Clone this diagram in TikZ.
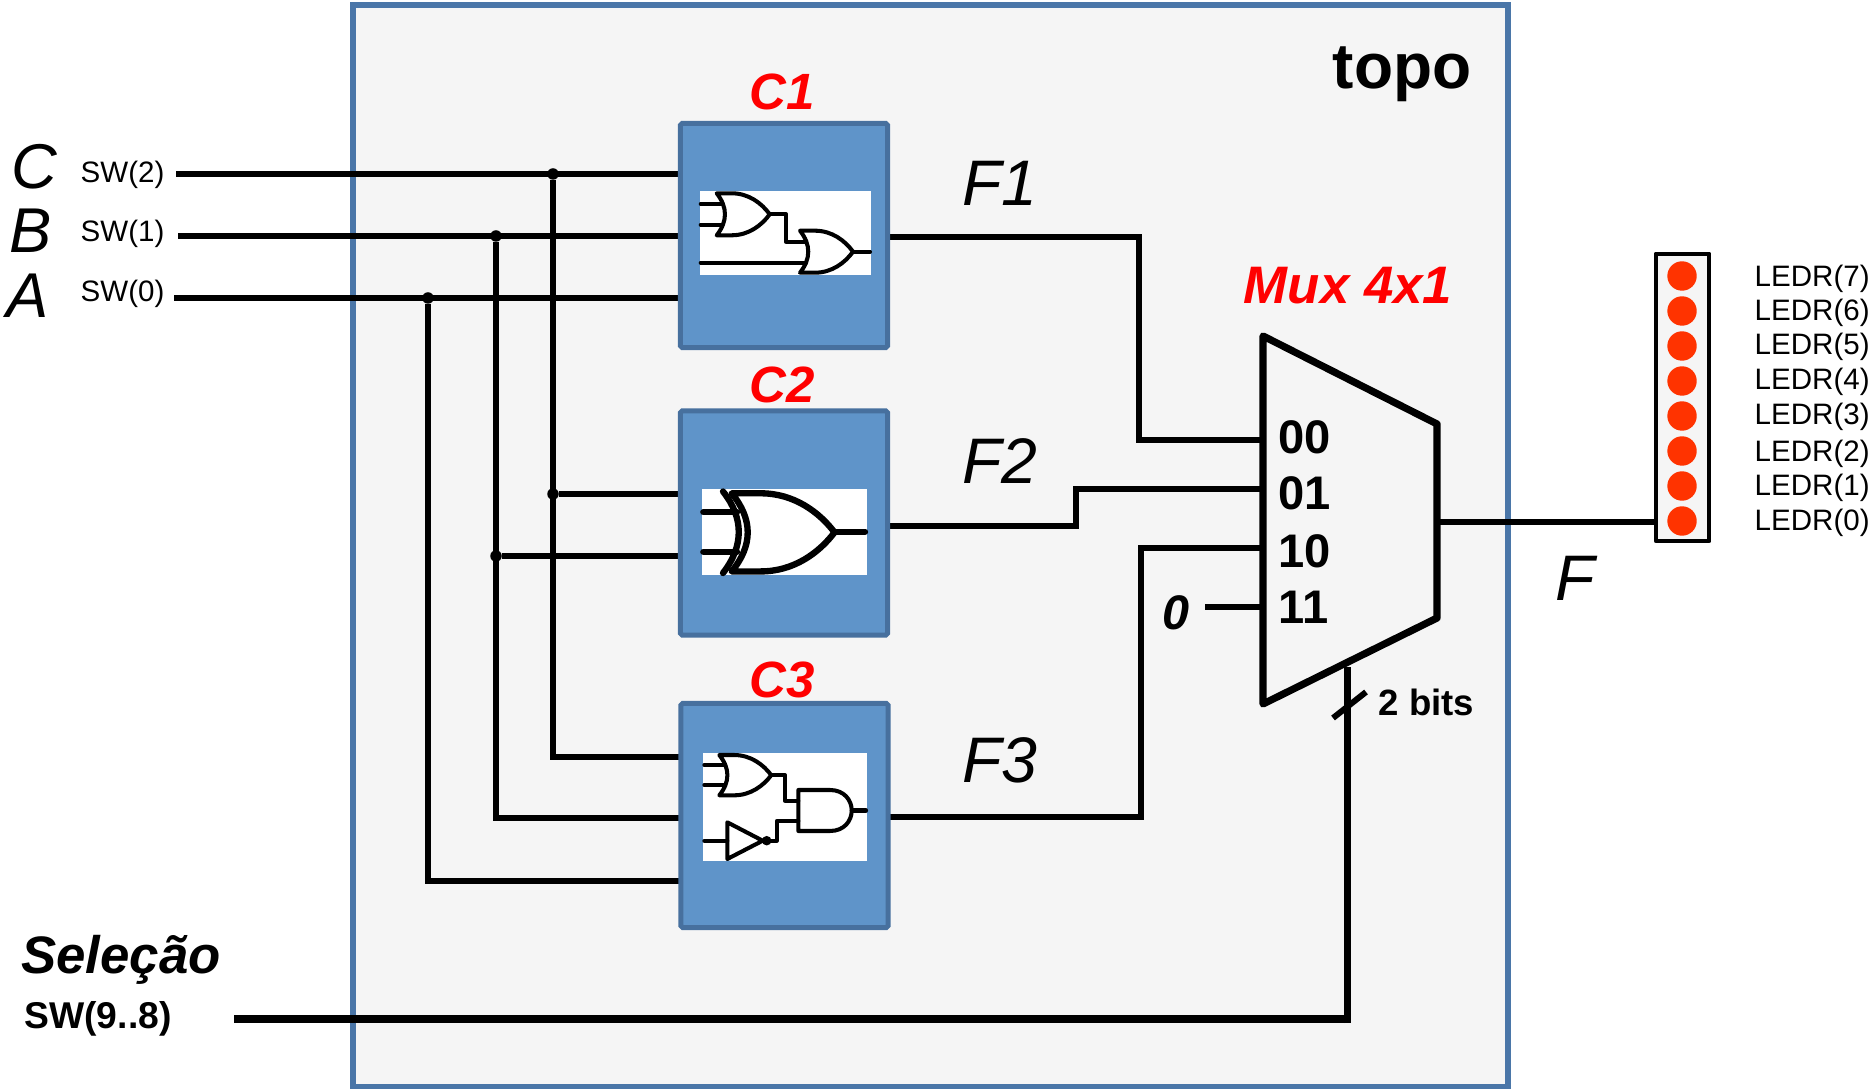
\documentclass[tikz,border=0pt]{standalone}
\usepackage{fontspec}
\setmainfont{Liberation Sans}
\usepackage{xcolor}

\definecolor{panelfill}{HTML}{F5F5F5}
\definecolor{panelline}{HTML}{4A76A8}
\definecolor{blockfill}{HTML}{5F94C9}
\definecolor{blockline}{HTML}{47709E}
\definecolor{ledred}{HTML}{FF3300}

\tikzset{
    wire/.style={line width=1.6pt, line cap=butt, line join=miter},
    inwire/.style={line width=1.85pt, line cap=butt},
    gateline/.style={line width=1.15pt, line join=round, line cap=round},
    blockbox/.style={draw=blockline, fill=blockfill, line width=1.4pt, rounded corners=0.5pt,
        minimum width=2.07cm, minimum height=2.24cm, inner sep=0pt},
    dotnode/.style={circle, fill=black, minimum size=0.115cm, inner sep=0pt},
    lednode/.style={circle, fill=ledred, minimum size=0.294cm, inner sep=0pt},
    ledlabel/.style={anchor=west, inner sep=0pt, font=\fontsize{8.4}{10}\selectfont},
    swlabel/.style={anchor=west, inner sep=0pt, font=\fontsize{8.4}{10}\selectfont},
    inlabel/.style={inner sep=0pt, font=\fontsize{18}{20}\selectfont\itshape},
    flabel/.style={inner sep=0pt, font=\fontsize{18.3}{20}\selectfont\itshape},
    redlabel/.style={inner sep=0pt, text=red, font=\fontsize{14.5}{16}\selectfont\bfseries\itshape},
    muxlabel/.style={anchor=west, inner sep=0pt, font=\fontsize{13.4}{15}\selectfont\bfseries},
    orgate/.pic={
        \draw [gateline] (0,0) -- (15,0) .. controls (32,0) and (45,10) .. (53,21)
            .. controls (45,32) and (32,42) .. (15,42) -- (0,42)
            .. controls (11,28) and (11,14) .. (0,0) -- cycle;
    }
}

\begin{document}
\begin{tikzpicture}[x=0.01cm, y=-0.01cm]
                \useasboundingbox (0, 0) rectangle (1874, 1089);

                \draw [panelline, fill=panelfill, line width=1.45pt] (353, 5) rectangle (1508, 1087);

                \coordinate (swc) at (176, 174);
                \coordinate (swb) at (178, 236);
                \coordinate (swa) at (174, 298);
                \coordinate (c1c) at (680, 174);
                \coordinate (c1b) at (680, 236);
                \coordinate (c1a) at (680, 298);
                \coordinate (c2c) at (680, 494);
                \coordinate (c2b) at (680, 556);
                \coordinate (c3c) at (680, 757);
                \coordinate (c3b) at (680, 818);
                \coordinate (c3a) at (680, 881);
                \coordinate (c1out) at (888, 237);
                \coordinate (c2out) at (888, 526);
                \coordinate (c3out) at (889, 817);
                \coordinate (mux00) at (1263, 440);
                \coordinate (mux01) at (1263, 489);
                \coordinate (mux10) at (1263, 548);
                \coordinate (mux11) at (1263, 607);
                \coordinate (zeroin) at (1205, 607);
                \coordinate (muxout) at (1437, 522);
                \coordinate (ledin) at (1656, 522);
                \coordinate (selin) at (234, 1019);
                \coordinate (selcorner) at (1350.5, 1019);
                \coordinate (selfoot) at (1347, 1023);
                \coordinate (selmux) at (1347, 667);
                \coordinate (slashlow) at (1333, 718);
                \coordinate (slashhigh) at (1366, 692);

                \node [dotnode] (dotc1) at (553, 174) {};
                \node [dotnode] (dotb1) at (496, 236) {};
                \node [dotnode] (dota1) at (428, 298) {};
                \node [dotnode] (dotc2) at (553, 494) {};
                \node [dotnode] (dotb2) at (496, 556) {};

                \draw [inwire] (swc) to (c1c);
                \draw [inwire] (swb) to (c1b);
                \draw [inwire] (swa) to (c1a);
                \draw [wire] (dotc1) -- (c3c -| dotc1) -- (c3c);
                \draw [wire] (dotb1) -- (c3b -| dotb1) -- (c3b);
                \draw [wire] (dota1) -- (c3a -| dota1) -- (c3a);
                \draw [wire] (dotc2) to (c2c);
                \draw [wire] (dotb2) to (c2b);

                \draw [wire] (c1out) -- (1139, 237) -- (1139, 440) -- (mux00);
                \draw [wire] (c2out) -- (1076, 526) -- (1076, 489) -- (mux01);
                \draw [wire] (c3out) -- (1141, 817) -- (1141, 548) -- (mux10);
                \draw [wire] (zeroin) to (mux11);
                \draw [wire] (muxout) to (ledin);
                \draw [wire, line width=2.35pt] (selin) to (selcorner);
                \draw [wire, line width=2pt] (selfoot) to (selmux);
                \draw [wire, line width=1.7pt] (slashlow) to (slashhigh);

                \node [blockbox] (c1) at (784, 235.5) {};
                \node [blockbox] (c2) at (784, 523) {};
                \node [blockbox] (c3) at (784.5, 815.5) {};

                \fill [white] (700, 191) rectangle (871, 275);
                \fill [white] (702, 489) rectangle (867, 575);
                \fill [white] (703, 753) rectangle (867, 861);

                \pic at (716.7, 193.3) {orgate};
                \pic at (800, 230.7) {orgate};
                \draw [gateline] (700.7, 204) to (721.7, 204);
                \draw [gateline] (700.7, 224.7) to (721.7, 224.7);
                \draw [gateline] (700.7, 262.7) to (806, 262.7);
                \draw [gateline] (770, 214) -- (786, 214) -- (786, 241.7) -- (805, 241.7);
                \draw [gateline] (853, 251.7) to (870, 251.7);

                \pic [xscale=1.94, yscale=1.86, gateline/.append style={line width=1.8pt}] at (731.7, 493.3) {orgate};
                \draw [gateline, line width=1.8pt] (723, 491.5) .. controls (744, 518) and (744, 546) .. (723, 573);
                \draw [gateline, line width=1.8pt] (703.3, 512.3) to (737, 512.3);
                \draw [gateline, line width=1.8pt] (703.3, 551.7) to (737, 551.7);
                \draw [gateline, line width=1.8pt] (834, 531.7) to (865, 531.7);

                \pic [xscale=0.98, yscale=0.96] at (719.3, 755) {orgate};
                \draw [gateline] (704.3, 765) to (725, 765);
                \draw [gateline] (704.3, 785) to (725, 785);
                \draw [gateline] (771, 775.3) -- (785, 775.3) -- (785, 800.7) -- (798.3, 800.7);
                \draw [gateline] (798.3, 790) -- (830, 790) .. controls (844, 790) and (851.7, 800) .. (851.7, 810.5)
                    .. controls (851.7, 821) and (844, 831) .. (830, 831) -- (798.3, 831) -- cycle;
                \draw [gateline] (851.7, 810.5) to (866, 810.5);
                \draw [gateline] (727.3, 822.3) -- (762.7, 840.7) -- (727.3, 859) -- cycle;
                \draw [gateline] (704.3, 840.7) to (727.3, 840.7);
                \draw [fill] (766.7, 840.7) circle [radius=4];
                \draw [gateline] (766.7, 840.7) -- (776.7, 840.7) -- (776.7, 821) -- (798.3, 821);

                \draw [black, line width=2.05pt, line join=round] (1263, 336) -- (1437, 424) -- (1437, 618) -- (1263, 704) -- cycle;

                \draw [black, fill=panelfill, line width=1.4pt, line join=round] (1656, 254) rectangle (1709, 541);
                \node [lednode] (led7) at (1682, 276) {};
                \node [lednode] (led6) at (1682, 311) {};
                \node [lednode] (led5) at (1682, 346) {};
                \node [lednode] (led4) at (1682, 381) {};
                \node [lednode] (led3) at (1682, 416) {};
                \node [lednode] (led2) at (1682, 451) {};
                \node [lednode] (led1) at (1682, 486) {};
                \node [lednode] (led0) at (1682, 521) {};

                \node [ledlabel] (ledr7) at (1754, 279) {LEDR(7)};
                \node [ledlabel] (ledr6) at (1754, 313) {LEDR(6)};
                \node [ledlabel] (ledr5) at (1754, 347) {LEDR(5)};
                \node [ledlabel] (ledr4) at (1754, 382) {LEDR(4)};
                \node [ledlabel] (ledr3) at (1754, 417) {LEDR(3)};
                \node [ledlabel] (ledr2) at (1754, 454) {LEDR(2)};
                \node [ledlabel] (ledr1) at (1754, 488) {LEDR(1)};
                \node [ledlabel] (ledr0) at (1754, 523) {LEDR(0)};

                \node [inlabel] (namec) at (34, 167) {C};
                \node [inlabel] (nameb) at (31, 231) {B};
                \node [inlabel] (namea) at (28, 296) {A};
                \node [swlabel] (sw2) at (80, 175) {SW(2)};
                \node [swlabel] (sw1) at (80, 234) {SW(1)};
                \node [swlabel] (sw0) at (80, 294) {SW(0)};

                \node [inner sep=0pt, font=\fontsize{18.2}{20}\selectfont\bfseries] (topo) at (1402, 74) {topo};
                \node [redlabel] (namec1) at (782, 92) {C1};
                \node [redlabel] (namec2) at (782, 385) {C2};
                \node [redlabel] (namec3) at (782, 680) {C3};
                \node [flabel] (namef1) at (1000, 183) {F1};
                \node [flabel] (namef2) at (1000, 461) {F2};
                \node [flabel] (namef3) at (1000, 760) {F3};
                \node [flabel] (namef) at (1575, 578) {F};
                \node [redlabel, font=\fontsize{15}{16}\selectfont\bfseries\itshape] (muxname) at (1348, 286) {Mux 4x1};

                \node [muxlabel] (in00) at (1278, 437) {00};
                \node [muxlabel] (in01) at (1278, 493) {01};
                \node [muxlabel] (in10) at (1278, 551) {10};
                \node [muxlabel] (in11) at (1278, 607) {11};
                \node [inner sep=0pt, font=\fontsize{13.8}{15}\selectfont\bfseries\itshape] (zero) at (1176, 613) {0};
                \node [anchor=west, inner sep=0pt, font=\fontsize{10.4}{12}\selectfont\bfseries] (bits) at (1378, 702) {2 bits};

                \node [inner sep=0pt, font=\fontsize{15}{17}\selectfont\bfseries\itshape] (selecao) at (121, 960) {Seleção};
                \node [inner sep=0pt, font=\fontsize{10.6}{12}\selectfont\bfseries] (swsel) at (98, 1019) {SW(9..8)};
            \end{tikzpicture}
\end{document}
